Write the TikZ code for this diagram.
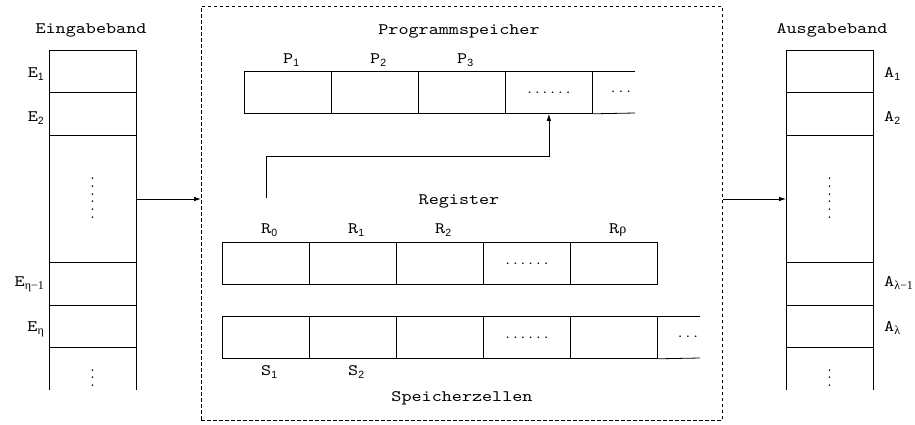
\documentclass[tikz,border=0pt]{standalone}
\usepackage{fontspec}
\setmainfont{lmmono10-regular.otf}[FakeStretch=1.2]
\newfontfamily\subf{Liberation Sans}
\newfontfamily\grkf{Liberation Serif}
\usetikzlibrary{arrows.meta}
\newcommand{\sbs}[1]{\raisebox{-0.45ex}{\subf\fontsize{10.5}{10.5}\selectfont #1}}
\newcommand{\sbg}[1]{\raisebox{-0.45ex}{\grkf\fontsize{12}{12}\selectfont #1}}
\begin{document}
\begin{tikzpicture}[x=1pt,y=-1pt,
  lbl/.style={font=\fontsize{16}{16}\selectfont, inner sep=0pt},
  cell/.style={draw, line width=0.8pt, minimum width=87pt, minimum height=42pt, inner sep=0pt, anchor=north west},
  tcell/.style={draw, line width=0.8pt, minimum width=87pt, inner sep=0pt, anchor=north west},
  dotsf/.style={font=\fontsize{12.2}{12.2}\selectfont, inner sep=0pt},
  ln/.style={line width=0.8pt},
  arr/.style={line width=0.8pt, -{Latex[length=7pt,width=4.5pt]}},
  membox/.style={draw, line width=0.6pt, dash pattern=on 3.5pt off 2.5pt, inner sep=0pt, anchor=north west, minimum width=521pt, minimum height=414pt}
]
\useasboundingbox (0,0) rectangle (915,424);

% memory box
\node[membox] (mem) at (201,6) {};

% ---------- input tape ----------
\node[lbl, anchor=base] (einlbl) at (91,33) {Eingabeband};
\node[tcell, minimum height=42pt] (e1) at (49,50) {};
\node[tcell, minimum height=43pt] (e2) at (49,92) {};
\node[tcell, minimum height=43pt] (e3) at (49,262) {};
\node[tcell, minimum height=42pt] (e4) at (49,305) {};
\coordinate (etl) at (49,50);
\coordinate (etr) at (136,50);
\coordinate (ebl) at (49,390);
\coordinate (ebr) at (136,390);
\draw[ln] (etl) -- (ebl);
\draw[ln] (etr) -- (ebr);
\node[dotsf, rotate=90] (edots1) at (92.5,198) {......};
\node[dotsf, rotate=90] (edots2) at (92.5,378) {...};
\node[lbl, anchor=base east] (le1) at (44,77) {E\sbs{1}};
\node[lbl, anchor=base east] (le2) at (44,121) {E\sbs{2}};
\node[lbl, anchor=base east] (le3) at (44,286) {E\sbg{η−1}};
\node[lbl, anchor=base east] (le4) at (44,331) {E\sbg{η}};

% ---------- output tape ----------
\node[lbl, anchor=base] (auslbl) at (832,33) {Ausgabeband};
\node[tcell, minimum height=42pt] (a1) at (786,50) {};
\node[tcell, minimum height=43pt] (a2) at (786,92) {};
\node[tcell, minimum height=43pt] (a3) at (786,262) {};
\node[tcell, minimum height=42pt] (a4) at (786,305) {};
\coordinate (atl) at (786,50);
\coordinate (atr) at (873,50);
\coordinate (abl) at (786,390);
\coordinate (abr) at (873,390);
\draw[ln] (atl) -- (abl);
\draw[ln] (atr) -- (abr);
\node[dotsf, rotate=90] (adots1) at (829.5,198) {......};
\node[dotsf, rotate=90] (adots2) at (829.5,378) {...};
\node[lbl, anchor=base west] (la1) at (884,77) {A\sbs{1}};
\node[lbl, anchor=base west] (la2) at (884,121) {A\sbs{2}};
\node[lbl, anchor=base west] (la3) at (884,286) {A\sbg{λ−1}};
\node[lbl, anchor=base west] (la4) at (884,331) {A\sbg{λ}};

% ---------- program memory ----------
\node[lbl, anchor=base] (prglbl) at (459,34) {Programmspeicher};
\node[cell] (p1) at (244,71) {};
\node[cell] (p2) at (331,71) {};
\node[cell] (p3) at (418,71) {};
\node[cell] (p4) at (505,71) {};
\coordinate (pe1) at (635,71);
\coordinate (pe2) at (635,113);
\draw[ln] (p4.north east) -- (pe1);
\draw[ln] (p4.south east) -- (pe2);
\node[dotsf] (pd4) at (p4.center) {......};
\node[dotsf] (pd5) at (621,92) {...};
\node[lbl, anchor=base west] (lp1) at (283,63) {P\sbs{1}};
\node[lbl, anchor=base west] (lp2) at (370,63) {P\sbs{2}};
\node[lbl, anchor=base west] (lp3) at (457,63) {P\sbs{3}};

% ---------- registers ----------
\node[lbl, anchor=base] (reglbl) at (459,204) {Register};
\node[cell] (r1) at (222,242) {};
\node[cell] (r2) at (309,242) {};
\node[cell] (r3) at (396,242) {};
\node[cell] (r4) at (483,242) {};
\node[cell] (r5) at (570,242) {};
\node[dotsf] (rd4) at (r4.center) {......};
\node[lbl, anchor=base west] (lr1) at (261,233) {R\sbs{0}};
\node[lbl, anchor=base west] (lr2) at (348,233) {R\sbs{1}};
\node[lbl, anchor=base west] (lr3) at (435,233) {R\sbs{2}};
\node[lbl, anchor=base west] (lr5) at (609,233) {R{\grkf\fontsize{14}{14}\selectfont ρ}};

% ---------- memory cells ----------
\node[cell] (s1) at (222,316) {};
\node[cell] (s2) at (309,316) {};
\node[cell] (s3) at (396,316) {};
\node[cell] (s4) at (483,316) {};
\node[cell] (s5) at (570,316) {};
\coordinate (se1) at (700,316);
\coordinate (se2) at (700,358);
\draw[ln] (s5.north east) -- (se1);
\draw[ln] (s5.south east) -- (se2);
\node[dotsf] (sd4) at (s4.center) {......};
\node[dotsf] (sd6) at (688,337) {...};
\node[lbl, anchor=base west] (ls1) at (261,375) {S\sbs{1}};
\node[lbl, anchor=base west] (ls2) at (348,375) {S\sbs{2}};
\node[lbl, anchor=base] (spzlbl) at (462,401) {Speicherzellen};

% ---------- connectors ----------
\coordinate (ein) at (136,199);
\coordinate (aus) at (786,199);
\draw[arr] (ein) -- (ein -| mem.west);
\draw[arr] (aus -| mem.east) -- (aus);
\coordinate (pc) at (266,198);
\coordinate (bend) at (266,156);
\draw[arr] (pc) -- (bend) -| (p4.south);
\end{tikzpicture}
\end{document}
